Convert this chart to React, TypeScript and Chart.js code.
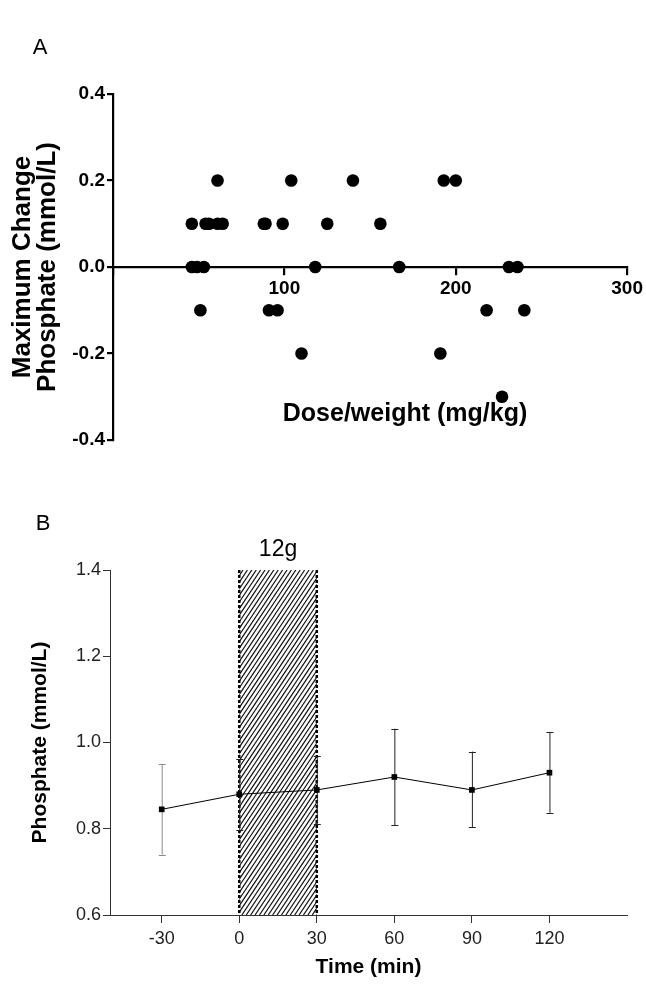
import React, { useEffect, useRef } from 'react';
import { Chart, registerables } from 'chart.js';

Chart.register(...registerables);

// ---------- Panel A data ----------
const doseA = [
  61, 104, 140, 193, 200,
  46, 54, 56, 61, 64, 88, 89, 99, 125, 156,
  46, 49, 53, 118, 167, 231, 236,
  51, 91, 96, 218, 240,
  110, 191,
  227,
];
const changeA = [
  0.2, 0.2, 0.2, 0.2, 0.2,
  0.1, 0.1, 0.1, 0.1, 0.1, 0.1, 0.1, 0.1, 0.1, 0.1,
  0, 0, 0, 0, 0, 0, 0,
  -0.1, -0.1, -0.1, -0.1, -0.1,
  -0.2, -0.2,
  -0.3,
];
const xTicksA = [0, 100, 200, 300];
const yTicksA = [-0.4, -0.2, 0, 0.2, 0.4];
const labelA = 'A';
const xTitleA = 'Dose/weight (mg/kg)';
const yTitleA = ['Maximum Change', 'Phosphate (mmol/L)'];

// ---------- Panel B data ----------
const timeB = [-30, 0, 30, 60, 90, 120];
const meanB = [0.845, 0.88, 0.89, 0.92, 0.89, 0.93];
const lowB = [0.74, 0.797, 0.811, 0.808, 0.804, 0.837];
const highB = [0.95, 0.962, 0.968, 1.032, 0.979, 1.024];
const xTicksB = [-30, 0, 30, 60, 90, 120];
const yTicksB = [0.6, 0.8, 1.0, 1.2, 1.4];
const bandB = [0, 30];
const bandLabelB = '12g';
const labelB = 'B';
const xTitleB = 'Time (min)';
const yTitleB = 'Phosphate (mmol/L)';

const FAMILY = "'Liberation Sans', Arial, Helvetica, sans-serif";

function drawText(
  ctx: CanvasRenderingContext2D,
  text: string,
  x: number,
  y: number,
  font: string,
  color: string,
  rotate = 0
) {
  ctx.save();
  ctx.translate(x, y);
  if (rotate) ctx.rotate(rotate);
  ctx.font = font;
  ctx.fillStyle = color;
  ctx.textAlign = 'center';
  ctx.textBaseline = 'middle';
  ctx.fillText(text, 0, 0);
  ctx.restore();
}

const annotA = {
  id: 'annotA',
  afterDraw(chart: any) {
    const ctx = chart.ctx as CanvasRenderingContext2D;
    const area = chart.chartArea;
    const yMid = (area.top + area.bottom) / 2;
    drawText(ctx, labelA, 40, 48, `22px ${FAMILY}`, '#000');
    drawText(ctx, yTitleA[0], 23, yMid, `bold 26px ${FAMILY}`, '#000', -Math.PI / 2);
    drawText(ctx, yTitleA[1], 48, yMid, `bold 26px ${FAMILY}`, '#000', -Math.PI / 2);
    drawText(ctx, xTitleA, 405, 414, `bold 25px ${FAMILY}`, '#000');
  },
};

const annotB = {
  id: 'annotB',
  beforeDatasetsDraw(chart: any) {
    const ctx = chart.ctx as CanvasRenderingContext2D;
    const xs = chart.scales.x;
    const ys = chart.scales.y;
    const x0 = xs.getPixelForValue(bandB[0]);
    const x1 = xs.getPixelForValue(bandB[1]);
    const top = ys.getPixelForValue(ys.max);
    const bottom = ys.getPixelForValue(ys.min);
    const h = bottom - top;
    // hatch
    ctx.save();
    ctx.beginPath();
    ctx.rect(x0, top, x1 - x0, h);
    ctx.clip();
    ctx.strokeStyle = '#111';
    ctx.lineWidth = 1.2;
    const run = h / 1.5;
    for (let s = x0 - run - 5; s < x1 + 5; s += 4.4) {
      ctx.beginPath();
      ctx.moveTo(s, bottom);
      ctx.lineTo(s + run, top);
      ctx.stroke();
    }
    ctx.restore();
    // dashed borders
    ctx.save();
    ctx.strokeStyle = '#000';
    ctx.lineWidth = 2.5;
    ctx.setLineDash([3, 2]);
    [x0, x1].forEach((x) => {
      ctx.beginPath();
      ctx.moveTo(x, top);
      ctx.lineTo(x, bottom);
      ctx.stroke();
    });
    ctx.restore();
    // error bars
    ctx.save();
    ctx.lineWidth = 1;
    timeB.forEach((t, i) => {
      const x = xs.getPixelForValue(t);
      const yl = ys.getPixelForValue(lowB[i]);
      const yh = ys.getPixelForValue(highB[i]);
      ctx.strokeStyle = i === 0 ? '#8a8a8a' : '#222';
      ctx.beginPath();
      ctx.moveTo(x + 0.5, yl);
      ctx.lineTo(x + 0.5, yh);
      ctx.moveTo(x - 3, Math.round(yl) + 0.5);
      ctx.lineTo(x + 4, Math.round(yl) + 0.5);
      ctx.moveTo(x - 3, Math.round(yh) + 0.5);
      ctx.lineTo(x + 4, Math.round(yh) + 0.5);
      ctx.stroke();
    });
    ctx.restore();
  },
  afterDraw(chart: any) {
    const ctx = chart.ctx as CanvasRenderingContext2D;
    const area = chart.chartArea;
    const xs = chart.scales.x;
    const xc = (xs.getPixelForValue(bandB[0]) + xs.getPixelForValue(bandB[1])) / 2;
    drawText(ctx, labelB, 43, 54, `22px ${FAMILY}`, '#000');
    drawText(ctx, bandLabelB, xc, 80, `23px ${FAMILY}`, '#000');
    drawText(ctx, yTitleB, 40, (area.top + area.bottom) / 2, `bold 21px ${FAMILY}`, '#000', -Math.PI / 2);
    drawText(ctx, xTitleB, (area.left + area.right) / 2, 497, `bold 21px ${FAMILY}`, '#000');
  },
};

export default function App() {
  const refA = useRef<HTMLCanvasElement>(null);
  const refB = useRef<HTMLCanvasElement>(null);

  useEffect(() => {
    const chartA = new Chart(refA.current as HTMLCanvasElement, {
      type: 'scatter',
      data: {
        datasets: [
          {
            data: doseA.map((x, i) => ({ x, y: changeA[i] })),
            pointRadius: 6.3,
            pointHoverRadius: 6.3,
            backgroundColor: '#000',
            borderWidth: 0,
          },
        ],
      },
      options: {
        responsive: false,
        animation: false,
        devicePixelRatio: 1,
        events: [],
        layout: { padding: { left: 0, top: 94, right: 17, bottom: 30 } },
        plugins: { legend: { display: false }, tooltip: { enabled: false } },
        scales: {
          x: {
            type: 'linear',
            position: { y: 0 } as any,
            min: 0,
            max: 300,
            afterBuildTicks: (s: any) => {
              s.ticks = xTicksA.map((v) => ({ value: v }));
            },
            ticks: {
              callback: (v: any) => (Number(v) === 0 ? '' : String(v)),
              font: { family: FAMILY, size: 19, weight: 'bold' },
              color: '#000',
              padding: 3,
              maxRotation: 0,
              autoSkip: false,
            },
            grid: { drawOnChartArea: false, drawTicks: true, tickLength: 7, color: '#000', lineWidth: 2.2 },
            border: { display: true, color: '#000', width: 2.2 },
          },
          y: {
            type: 'linear',
            min: -0.4,
            max: 0.4,
            afterBuildTicks: (s: any) => {
              s.ticks = yTicksA.map((v) => ({ value: v }));
            },
            afterFit: (s: any) => {
              s.width = 113;
            },
            ticks: {
              callback: (v: any) => (Math.round(Number(v) * 10) / 10).toFixed(1),
              font: { family: FAMILY, size: 19, weight: 'bold' },
              color: '#000',
              padding: 2,
            },
            grid: { drawOnChartArea: false, drawTicks: true, tickLength: 6, color: '#000', lineWidth: 2.2 },
            border: { display: true, color: '#000', width: 2.2 },
          },
        },
      },
      plugins: [annotA],
    } as any);

    const chartB = new Chart(refB.current as HTMLCanvasElement, {
      type: 'line',
      data: {
        datasets: [
          {
            data: timeB.map((x, i) => ({ x, y: meanB[i] })),
            borderColor: '#000',
            borderWidth: 1,
            pointStyle: 'rect',
            pointRadius: 4,
            pointHoverRadius: 4,
            pointBackgroundColor: '#000',
            pointBorderWidth: 0,
            fill: false,
            tension: 0,
          },
        ],
      },
      options: {
        responsive: false,
        animation: false,
        devicePixelRatio: 1,
        events: [],
        layout: { padding: { left: 0, top: 100, right: 19, bottom: 0 } },
        plugins: { legend: { display: false }, tooltip: { enabled: false } },
        scales: {
          x: {
            type: 'linear',
            position: 'bottom',
            min: -50,
            max: 150,
            afterBuildTicks: (s: any) => {
              s.ticks = xTicksB.map((v) => ({ value: v }));
            },
            afterFit: (s: any) => {
              s.height = 75;
            },
            ticks: {
              font: { family: FAMILY, size: 18 },
              color: '#222',
              padding: 5,
              maxRotation: 0,
              autoSkip: false,
            },
            grid: { drawOnChartArea: false, drawTicks: true, tickLength: 8, color: '#333', lineWidth: 1 },
            border: { display: true, color: '#333', width: 1 },
          },
          y: {
            type: 'linear',
            min: 0.6,
            max: 1.4,
            afterBuildTicks: (s: any) => {
              s.ticks = yTicksB.map((v) => ({ value: v }));
            },
            afterFit: (s: any) => {
              s.width = 110;
            },
            ticks: {
              callback: (v: any) => Number(v).toFixed(1),
              font: { family: FAMILY, size: 18 },
              color: '#222',
              padding: 2,
            },
            grid: { drawOnChartArea: false, drawTicks: true, tickLength: 7, color: '#333', lineWidth: 1 },
            border: { display: true, color: '#333', width: 1 },
          },
        },
      },
      plugins: [annotB],
    } as any);

    return () => {
      chartA.destroy();
      chartB.destroy();
    };
  }, []);

  return (
    <div style={{ position: 'absolute', left: 0, top: 0, width: 646, height: 990, background: '#fff' }}>
      <canvas
        ref={refA}
        width={646}
        height={470}
        style={{ position: 'absolute', left: 0, top: 0, width: 646, height: 470 }}
      />
      <canvas
        ref={refB}
        width={646}
        height={520}
        style={{ position: 'absolute', left: 0, top: 470, width: 646, height: 520 }}
      />
    </div>
  );
}
